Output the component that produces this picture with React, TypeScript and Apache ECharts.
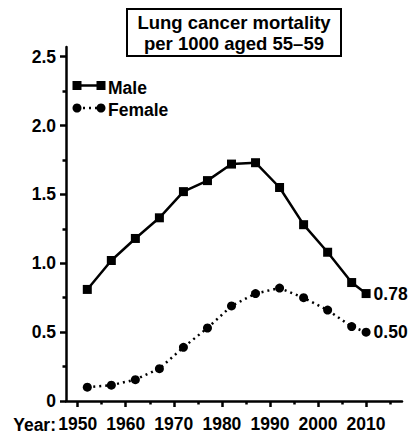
import React, { useEffect, useRef } from "react";
import * as echarts from "echarts";

const years = [1952, 1957, 1962, 1967, 1972, 1977, 1982, 1987, 1992, 1997, 2002, 2007, 2010];
const maleValues = [0.81, 1.02, 1.18, 1.33, 1.52, 1.6, 1.72, 1.73, 1.55, 1.28, 1.08, 0.86, 0.78];
const femaleValues = [0.1, 0.115, 0.155, 0.235, 0.39, 0.53, 0.69, 0.78, 0.82, 0.75, 0.66, 0.54, 0.5];
const xMajorTicks = [1950, 1960, 1970, 1980, 1990, 2000, 2010];
const xMinorTicks = [1955, 1965, 1975, 1985, 1995, 2005, 2015];
const yMajorTicks = [0, 0.5, 1.0, 1.5, 2.0, 2.5];
const yMinorTicks = [0.25, 0.75, 1.25, 1.75, 2.25];
const titleLines = ["Lung cancer mortality", "per 1000 aged 55\u201359"];
const seriesNames = ["Male", "Female"];

const FONT = '"Liberation Sans", Arial, Helvetica, sans-serif';
const textBase = { fontFamily: FONT, fontWeight: "bold" as const, fontSize: 17.5, color: "#000" };

export default function App() {
  const ref = useRef<HTMLDivElement>(null);
  useEffect(() => {
    if (!ref.current) return;
    const chart = echarts.init(ref.current, null, { renderer: "svg" });
    const lastIdx = years.length - 1;
    const mkData = (vals: number[]) =>
      vals.map((v, i) =>
        i === lastIdx
          ? {
              value: [years[i], v],
              label: {
                show: true,
                position: "right",
                distance: 3,
                formatter: v.toFixed(2),
                ...textBase,
              },
            }
          : { value: [years[i], v] }
      );
    const xCommon = {
      type: "value" as const,
      min: 1947.57,
      max: 2017.47,
      gridIndex: 0,
      position: "bottom" as const,
      splitLine: { show: false },
    };
    const yCommon = {
      type: "value" as const,
      min: 0,
      max: 2.57,
      position: "left" as const,
      splitLine: { show: false },
    };
    chart.setOption({
      animation: false,
      backgroundColor: "#fff",
      grid: { left: 66, right: 7, top: 47, bottom: 36, containLabel: false },
      xAxis: [
        {
          ...xCommon,
          axisLine: { show: true, lineStyle: { color: "#000", width: 2.5 } },
          axisTick: { show: true, customValues: xMajorTicks, length: 6, lineStyle: { color: "#000", width: 2.5 } },
          axisLabel: {
            show: true,
            customValues: xMajorTicks,
            margin: 14,
            formatter: (v: number) => String(Math.round(v)),
            ...textBase,
          },
        },
        {
          ...xCommon,
          axisLine: { show: false },
          axisTick: { show: true, customValues: xMinorTicks, length: 3.5, lineStyle: { color: "#000", width: 2.5 } },
          axisLabel: { show: false },
        },
      ],
      yAxis: [
        {
          ...yCommon,
          axisLine: { show: true, lineStyle: { color: "#000", width: 2.5 } },
          axisTick: { show: true, customValues: yMajorTicks, length: 6, lineStyle: { color: "#000", width: 2.5 } },
          axisLabel: {
            show: true,
            customValues: yMajorTicks,
            margin: 10,
            formatter: (v: number) => (v === 0 ? "0" : v.toFixed(1)),
            ...textBase,
          },
        },
        {
          ...yCommon,
          axisLine: { show: false },
          axisTick: { show: true, customValues: yMinorTicks, length: 3.5, lineStyle: { color: "#000", width: 2.5 } },
          axisLabel: { show: false },
        },
      ],
      series: [
        {
          name: seriesNames[0],
          type: "line",
          xAxisIndex: 0,
          yAxisIndex: 0,
          data: mkData(maleValues),
          symbol: "rect",
          symbolSize: 9,
          itemStyle: { color: "#000" },
          lineStyle: { color: "#000", width: 2.5 },
          z: 3,
        },
        {
          name: seriesNames[1],
          type: "line",
          xAxisIndex: 0,
          yAxisIndex: 0,
          data: mkData(femaleValues),
          symbol: "circle",
          symbolSize: 9,
          itemStyle: { color: "#000" },
          lineStyle: { color: "#000", width: 2.5, type: [2, 4], cap: "butt" },
          z: 3,
        },
      ],
      graphic: [
        {
          type: "rect",
          shape: { x: 127, y: 9, width: 214, height: 47 },
          style: { fill: "#fff", stroke: "#000", lineWidth: 2 },
        },
        {
          type: "text",
          x: 234,
          y: 32.5,
          style: {
            text: titleLines.join("\n"),
            textAlign: "center",
            textVerticalAlign: "middle",
            font: `bold 18.5px ${FONT}`,
            lineHeight: 21,
            fill: "#000",
          },
        },
        // legend: Male
        { type: "line", shape: { x1: 77, y1: 85.5, x2: 101, y2: 85.5 }, style: { stroke: "#000", lineWidth: 2.5 } },
        { type: "rect", shape: { x: 72.5, y: 81, width: 9, height: 9 }, style: { fill: "#000" } },
        { type: "rect", shape: { x: 96.5, y: 81, width: 9, height: 9 }, style: { fill: "#000" } },
        {
          type: "text",
          x: 108,
          y: 88,
          style: { text: seriesNames[0], textVerticalAlign: "middle", font: `bold 17.5px ${FONT}`, fill: "#000" },
        },
        // legend: Female
        {
          type: "line",
          shape: { x1: 77, y1: 108, x2: 101, y2: 108 },
          style: { stroke: "#000", lineWidth: 2.5, lineDash: [2, 4] },
        },
        { type: "circle", shape: { cx: 77, cy: 108, r: 4.5 }, style: { fill: "#000" } },
        { type: "circle", shape: { cx: 101, cy: 108, r: 4.5 }, style: { fill: "#000" } },
        {
          type: "text",
          x: 108,
          y: 110,
          style: { text: seriesNames[1], textVerticalAlign: "middle", font: `bold 17.5px ${FONT}`, fill: "#000" },
        },
        {
          type: "text",
          x: 56,
          y: 425,
          style: { text: "Year:", textAlign: "right", textVerticalAlign: "middle", font: `bold 17.5px ${FONT}`, fill: "#000" },
        },
      ],
    });
    return () => chart.dispose();
  }, []);
  return <div ref={ref} style={{ position: "fixed", left: 0, top: 0, width: 409, height: 437 }} />;
}
